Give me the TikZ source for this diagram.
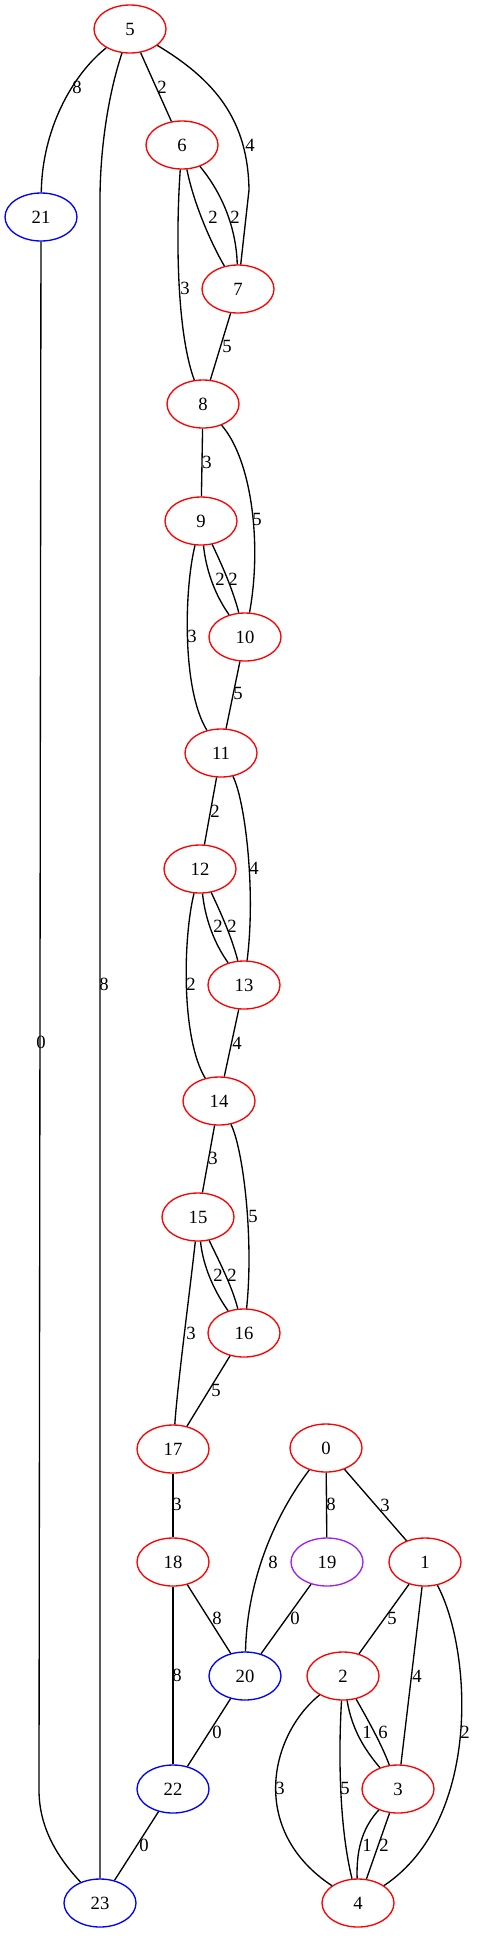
\documentclass[tikz,border=0pt]{standalone}
\usepackage{fontspec}
\setmainfont{Liberation Serif}
\usepackage{xcolor}
\usepackage{tikz}
\usetikzlibrary{positioning,shapes.geometric}
\definecolor{graphpurple}{RGB}{160,32,240}

\begin{document}
\begin{tikzpicture}[x=0.75pt, y=-0.75pt,
    vertex/.style={ellipse, draw, inner sep=0pt, minimum width=54pt, minimum height=36pt, line width=1pt, font=\fontsize{14}{16}\selectfont},
    redvertex/.style={vertex, draw=red},
    bluevertex/.style={vertex, draw=blue},
    purplevertex/.style={vertex, draw=graphpurple},
    weight/.style={inner sep=0pt, font=\fontsize{14}{16}\selectfont},
    link/.style={black, line width=1pt}]
    \useasboundingbox (0,0) rectangle (476,1943);

    \node [redvertex] (n5) at (130, 29) {5};
    \node [redvertex] (n6) at (182, 145) {6};
    \node [bluevertex] (n21) at (41, 217) {21};
    \node [redvertex] (n7) at (238, 289) {7};
    \node [redvertex] (n8) at (203, 404) {8};
    \node [redvertex] (n9) at (201, 521) {9};
    \node [redvertex] (n10) at (245, 637) {10};
    \node [redvertex] (n11) at (221, 753) {11};
    \node [redvertex] (n12) at (200, 869) {12};
    \node [redvertex] (n13) at (244, 985) {13};
    \node [redvertex] (n14) at (219, 1101) {14};
    \node [redvertex] (n15) at (198, 1217) {15};
    \node [redvertex] (n16) at (244, 1333) {16};
    \node [redvertex] (n17) at (173, 1449) {17};
    \node [redvertex] (n18) at (173, 1562) {18};
    \node [bluevertex] (n20) at (245, 1676) {20};
    \node [bluevertex] (n22) at (173, 1789) {22};
    \node [bluevertex] (n23) at (100, 1903) {23};

    \node [redvertex] (n0) at (326, 1448) {0};
    \node [purplevertex] (n19) at (327, 1562) {19};
    \node [redvertex] (n1) at (425, 1562) {1};
    \node [redvertex] (n2) at (343, 1676) {2};
    \node [redvertex] (n3) at (398, 1789) {3};
    \node [redvertex] (n4) at (358, 1903) {4};

    % left chain
    \draw [link] (n5) .. controls (72, 75) and (42, 130) .. (n21);
    \draw [link] (n5) .. controls (108, 95) and (100, 150) .. (100, 200) -- (n23);
    \draw [link] (n21) -- (39, 1790) .. controls (39, 1830) and (60, 1860) .. (n23);
    \draw [link] (n5) -- (n6);
    \draw [link] (n5) .. controls (215, 80) and (248, 120) .. (249, 190) -- (n7);
    \draw [link] (n6) .. controls (194, 205) and (212, 245) .. (n7);
    \draw [link] (n6) .. controls (218, 188) and (236, 222) .. (n7);
    \draw [link] (n6) .. controls (176, 230) and (176, 330) .. (n8);
    \draw [link] (n7) -- (n8);
    \draw [link] (n8) -- (n9);
    \draw [link] (n8) .. controls (252, 460) and (262, 545) .. (n10);
    \draw [link] (n9) .. controls (206, 570) and (215, 595) .. (n10);
    \draw [link] (n9) .. controls (222, 565) and (233, 590) .. (n10);
    \draw [link] (n9) .. controls (184, 590) and (182, 690) .. (n11);
    \draw [link] (n10) -- (n11);
    \draw [link] (n11) -- (n12);
    \draw [link] (n11) .. controls (245, 800) and (256, 890) .. (n13);
    \draw [link] (n12) .. controls (205, 918) and (214, 943) .. (n13);
    \draw [link] (n12) .. controls (221, 913) and (232, 938) .. (n13);
    \draw [link] (n12) .. controls (183, 938) and (181, 1038) .. (n14);
    \draw [link] (n13) -- (n14);
    \draw [link] (n14) -- (n15);
    \draw [link] (n14) .. controls (243, 1148) and (254, 1238) .. (n16);
    \draw [link] (n15) .. controls (203, 1266) and (214, 1291) .. (n16);
    \draw [link] (n15) .. controls (219, 1261) and (232, 1286) .. (n16);
    \draw [link] (n15) .. controls (190, 1290) and (178, 1380) .. (n17);
    \draw [link] (n16) -- (n17);
    \draw [link] (n17) -- (n18);
    \draw [link] (n18) -- (n20);
    \draw [link] (n18) -- (n22);
    \draw [link] (n20) -- (n22);
    \draw [link] (n22) -- (n23);

    % right group
    \draw [link] (n0) .. controls (275, 1515) and (247, 1580) .. (n20);
    \draw [link] (n0) -- (n19);
    \draw [link] (n0) -- (n1);
    \draw [link] (n19) -- (n20);
    \draw [link] (n1) -- (n2);
    \draw [link] (n1) -- (n3);
    \draw [link] (n1) .. controls (472, 1650) and (482, 1820) .. (n4);
    \draw [link] (n2) .. controls (352, 1730) and (365, 1750) .. (n3);
    \draw [link] (n2) .. controls (368, 1720) and (382, 1745) .. (n3);
    \draw [link] (n2) .. controls (270, 1735) and (248, 1830) .. (n4);
    \draw [link] (n2) .. controls (338, 1760) and (340, 1830) .. (n4);
    \draw [link] (n3) .. controls (365, 1825) and (356, 1845) .. (n4);
    \draw [link] (n3) -- (n4);

    % weights
    \node [weight] (w5-21) at (77, 87) {8};
    \node [weight] (w5-23) at (104, 984) {8};
    \node [weight] (w21-23) at (41, 1042) {0};
    \node [weight] (w5-6) at (162, 87) {2};
    \node [weight] (w5-7) at (250, 145) {4};
    \node [weight] (w6-7a) at (213, 217) {2};
    \node [weight] (w6-7b) at (235, 217) {2};
    \node [weight] (w6-8) at (185, 288) {3};
    \node [weight] (w7-8) at (227, 346) {5};
    \node [weight] (w8-9) at (207, 462) {3};
    \node [weight] (w8-10) at (257, 519) {5};
    \node [weight] (w9-10a) at (220, 579) {2};
    \node [weight] (w9-10b) at (233, 579) {2};
    \node [weight] (w9-11) at (192, 636) {3};
    \node [weight] (w10-11) at (238, 693) {5};
    \node [weight] (w11-12) at (215, 811) {2};
    \node [weight] (w11-13) at (254, 868) {4};
    \node [weight] (w12-13a) at (218, 926) {2};
    \node [weight] (w12-13b) at (232, 926) {2};
    \node [weight] (w12-14) at (191, 984) {2};
    \node [weight] (w13-14) at (237, 1043) {4};
    \node [weight] (w14-15) at (213, 1158) {3};
    \node [weight] (w14-16) at (253, 1216) {5};
    \node [weight] (w15-16a) at (218, 1275) {2};
    \node [weight] (w15-16b) at (232, 1275) {2};
    \node [weight] (w15-17) at (191, 1333) {3};
    \node [weight] (w16-17) at (216, 1390) {5};
    \node [weight] (w17-18) at (177, 1504) {3};
    \node [weight] (w18-20) at (217, 1618) {8};
    \node [weight] (w18-22) at (177, 1675) {8};
    \node [weight] (w20-22) at (217, 1732) {0};
    \node [weight] (w22-23) at (144, 1845) {0};
    \node [weight] (w0-20) at (273, 1562) {8};
    \node [weight] (w0-19) at (331, 1504) {8};
    \node [weight] (w0-1) at (385, 1505) {3};
    \node [weight] (w19-20) at (295, 1618) {0};
    \node [weight] (w1-2) at (392, 1618) {5};
    \node [weight] (w1-3) at (417, 1676) {4};
    \node [weight] (w1-4) at (465, 1732) {2};
    \node [weight] (w2-3a) at (367, 1732) {1};
    \node [weight] (w2-3b) at (383, 1732) {6};
    \node [weight] (w2-4a) at (280, 1788) {3};
    \node [weight] (w2-4b) at (345, 1788) {5};
    \node [weight] (w3-4a) at (367, 1845) {1};
    \node [weight] (w3-4b) at (384, 1845) {2};
\end{tikzpicture}
\end{document}
